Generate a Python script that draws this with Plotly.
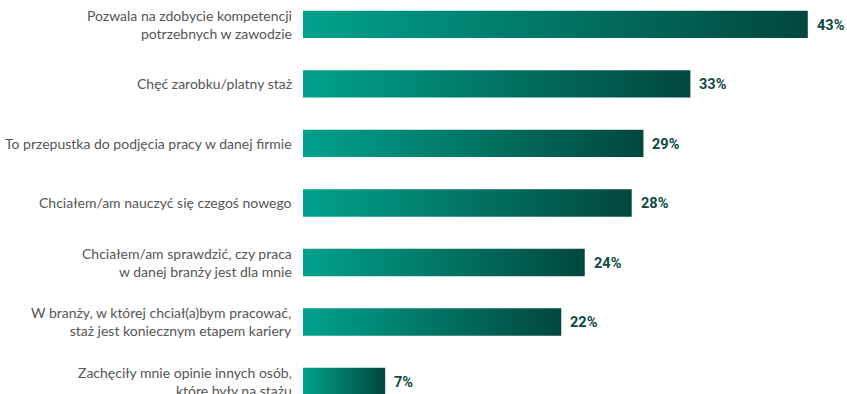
import plotly.graph_objects as go

# Survey answers (top to bottom) and their shares in percent
categories = [
    "Pozwala na zdobycie kompetencji<br>potrzebnych w zawodzie",
    "Chęć zarobku/platny staż",
    "To przepustka do podjęcia pracy w danej firmie",
    "Chciałem/am nauczyć się czegoś nowego",
    "Chciałem/am sprawdzić, czy praca<br>w danej branży jest dla mnie",
    "W branży, w której chciał(a)bym pracować,<br>staż jest koniecznym etapem kariery",
    "Zachęciły mnie opinie innych osób,<br>które były na stażu",
]
values = [43, 33, 29, 28, 24, 22, 7]

BAR_HALF = 0.23
GRADIENT = [[0, "#00a28d"], [1, "#02473d"]]

fig = go.Figure()

for i, (cat, v) in enumerate(zip(categories, values)):
    # each bar is a filled rectangle with its own left-to-right gradient
    fig.add_trace(go.Scatter(
        x=[0, v, v, 0, 0],
        y=[i - BAR_HALF, i - BAR_HALF, i + BAR_HALF, i + BAR_HALF, i - BAR_HALF],
        mode="lines",
        line=dict(width=0),
        fill="toself",
        fillgradient=dict(type="horizontal", colorscale=GRADIENT),
        hoverinfo="skip",
        showlegend=False,
    ))
    # value label just past the bar end
    fig.add_annotation(
        x=v, y=i, text=f"<b>{v}%</b>",
        xanchor="left", yanchor="middle", xshift=7, yshift=-1,
        showarrow=False,
        font=dict(family="Roboto", size=14.5, color="#0d4a40"),
    )
    # category label, right-aligned against the bars
    fig.add_annotation(
        x=0, xref="paper", y=i, yref="y", text=cat,
        xanchor="right", yanchor="middle", align="right", xshift=-9,
        showarrow=False,
        font=dict(family="Lato", size=14, color="#555555"),
    )

fig.update_layout(
    width=847, height=394,
    margin=dict(l=303, r=4, t=0, b=0),
    paper_bgcolor="white", plot_bgcolor="white",
    xaxis=dict(range=[0, 46], visible=False, fixedrange=True),
    yaxis=dict(range=[6.21, -0.41], visible=False, fixedrange=True),
)

fig.write_html("out.html")
